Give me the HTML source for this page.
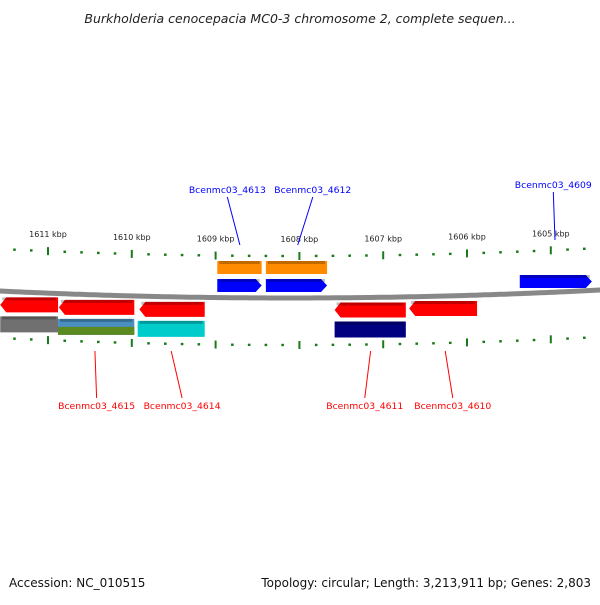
<!DOCTYPE html>
<html><head><meta charset="utf-8"><style>
body{margin:0;background:#fff}
svg text{font-family:"DejaVu Sans","Liberation Sans",sans-serif}
</style></head><body>
<svg width="600" height="600" viewBox="0 0 600 600" xmlns="http://www.w3.org/2000/svg">
<text x="300" y="23" text-anchor="middle" font-size="12.5" font-style="italic" fill="#222">Burkholderia cenocepacia MC0-3 chromosome 2, complete sequen...</text>
<g id="ticks"></g>
<path id="bb" fill="none" stroke="#888" stroke-width="5"/>
<g id="genes"></g>
<g id="labels"></g>
<text x="9" y="587" font-size="12" fill="#111">Accession: NC_010515</text>
<text x="591" y="587" font-size="12" text-anchor="end" fill="#111">Topology: circular; Length: 3,213,911 bp; Genes: 2,803</text>
</svg>
<script>
const tickKbp=[1611,1610,1609,1608,1607,1606,1605];
const geneStart=[1608.98,1608.40,1608.98,1608.40,1605.37,1611.57,1610.87,1609.91,1607.58,1606.69,1611.57,1610.88,1609.93,1607.58];
const geneEnd=[1608.45,1607.67,1608.45,1607.67,1604.51,1610.88,1609.97,1609.13,1606.73,1605.88,1610.88,1609.97,1609.13,1606.73];
const geneRow=[0,0,1,1,1,2,2,2,2,2,3,3,3,3];
const geneColor=['#ff8c00','#ff8c00','#0000ff','#0000ff','#0000ff','#ff0000','#ff0000','#ff0000','#ff0000','#ff0000','#707070','#4a8fc0','#00cccc','#000080'];
const geneDir=[0,0,1,1,1,-1,-1,-1,-1,-1,0,0,0,0];
const labelText=['Bcenmc03_4613','Bcenmc03_4612','Bcenmc03_4609','Bcenmc03_4615','Bcenmc03_4614','Bcenmc03_4611','Bcenmc03_4610'];
const labelKbp=[1608.86,1607.84,1604.97,1610.42,1609.40,1607.22,1606.17];
const labelAnchorKbp=[1608.71,1608.02,1604.95,1610.44,1609.53,1607.15,1606.26];
const labelSide=[0,0,0,1,1,1,1];
const NS='http://www.w3.org/2000/svg';
const X=k=>48+(1611-k)*83.8;
const dy=x=>8*(1-Math.pow((x-290)/310,2));
function el(t,a,p){const e=document.createElementNS(NS,t);for(const k in a)e.setAttribute(k,a[k]);p.appendChild(e);return e;}
let d='';for(let x=-5;x<=605;x+=5){d+=(x==-5?'M':'L')+x+','+(290+dy(x)).toFixed(1);}
document.getElementById('bb').setAttribute('d',d);
const tg=document.getElementById('ticks');
for(let i=0;i<tickKbp.length;i++){
  for(let j=-2;j<5;j++){
    const k=tickKbp[i]-j*0.2; if(i>0&&j<0)continue; const x=X(k); if(x<0||x>600)continue;
    const major=j===0;
    [248,337].forEach(b=>{const y=b+dy(x);const r=el('line',{x1:x,x2:x,y1:major?y-4:y-1.2,y2:major?y+4:y+1.2,stroke:'#1a7a1a','stroke-width':major?2:2.6},tg);
      
      });
  }
  const t=el('text',{x:X(tickKbp[i]),y:234+dy(X(tickKbp[i])),'font-size':8,'text-anchor':'middle',fill:'#222'},tg);
  t.textContent=tickKbp[i]+' kbp';
  
  
}
const rowY=[261,279,299,318],rowH=[13,13,15,16];
const gg=document.getElementById('genes');
for(let i=0;i<geneStart.length;i++){
  const x1=X(geneStart[i]),x2=X(geneEnd[i]),m=(x1+x2)/2;
  const r=geneRow[i];
  let y=rowY[r]+(r>=2?dy(m)-4:0);
  if(r==1&&x1>500)y=275;
  const h=rowH[r];
  let p;
  if(geneDir[i]==1)p=`M${x1},${y} L${x2-6},${y} L${x2},${y+h/2} L${x2-6},${y+h} L${x1},${y+h}Z`;
  else if(geneDir[i]==-1)p=`M${x2},${y} L${x1+6},${y} L${x1},${y+h/2} L${x1+6},${y+h} L${x2},${y+h}Z`;
  else p=`M${x1},${y} L${x2},${y} L${x2},${y+h} L${x1},${y+h}Z`;
  const e=el('path',{d:p,fill:geneColor[i]},gg);
  
  
  el('rect',{x:Math.min(x1,x2)+2,y:y,width:Math.abs(x2-x1)-4,height:3,fill:'rgba(0,0,0,0.25)'},gg);
  if(i==11){el('rect',{x:x1,y:y+h/2,width:x2-x1,height:h/2,fill:'#5a8a20'},gg);}
}
const lg=document.getElementById('labels');
for(let i=0;i<labelText.length;i++){
  const top=labelSide[i]==0,col=top?'#0000ff':'#ff0000';
  const lx=X(labelKbp[i]),ax=X(labelAnchorKbp[i]);
  const ty=top?(i==2?188:193):409;
  const l=el('line',{x1:lx,y1:top?ty+4:ty-11,x2:ax,y2:top?(i==2?240:245):351,stroke:col,'stroke-width':1},lg);
  
  
  const t=el('text',{x:lx,y:ty,'font-size':9,'text-anchor':'middle',fill:col,textLength:77,lengthAdjust:'spacingAndGlyphs'},lg);
  t.textContent=labelText[i];
  
  
}
</script>
</body></html>
